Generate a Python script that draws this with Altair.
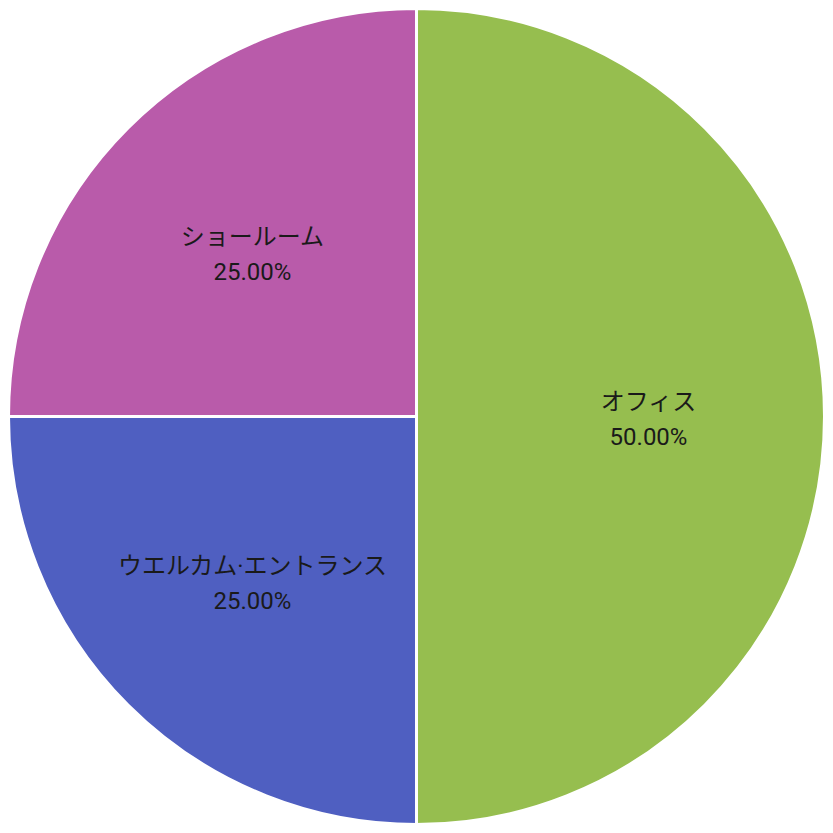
import altair as alt
import pandas as pd

# slices, clockwise from 12 o'clock
categories = ["オフィス", "ウエルカム·エントランス", "ショールーム"]
values = [50, 25, 25]
colors = ["#96be4f", "#4f5fc1", "#b95baa"]

total = sum(values)
df = pd.DataFrame({
    "category": categories,
    "value": values,
    "idx": list(range(len(categories))),
    "pct": [f"{v / total * 100:.2f}%" for v in values],
})

base = alt.Chart(df).encode(
    theta=alt.Theta("value:Q", stack=True),
    order=alt.Order("idx:Q", sort="ascending"),
    color=alt.Color("category:N",
                    scale=alt.Scale(domain=categories, range=colors),
                    legend=None),
)

pie = base.mark_arc(radius=408, stroke="white", strokeWidth=3)

font = "Roboto, Noto Sans CJK JP, sans-serif"
name_text = base.mark_text(radius=232, dy=-14, fontSize=24, font=font).encode(
    text="category:N", color=alt.value("#1a1a1a"))
pct_text = base.mark_text(radius=232, dy=21, fontSize=24, font=font).encode(
    text="pct:N", color=alt.value("#1a1a1a"))

chart = alt.layer(pie, name_text, pct_text).properties(
    width=817,
    height=817,
    autosize=alt.AutoSizeParams(type="none"),
    padding=0,
).configure_view(stroke=None)

chart.save("out.html", embed_options={"renderer": "svg", "actions": False})
